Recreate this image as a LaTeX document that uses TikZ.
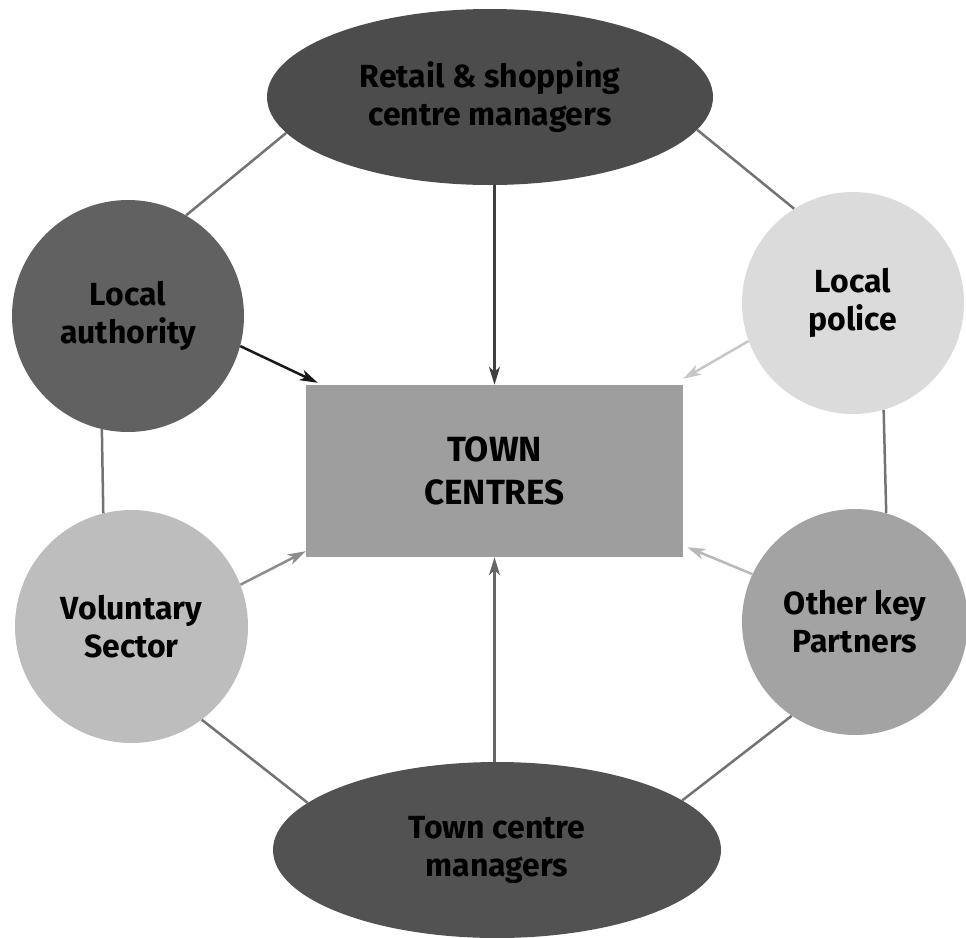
\documentclass[tikz,border=0pt]{standalone}
\usepackage{fontspec}
\setmainfont{Fira Sans}
\usetikzlibrary{arrows.meta,calc,shapes.geometric}
\begin{document}
\begin{tikzpicture}[x=1pt,y=-1pt,
  lbl/.style={font=\bfseries\fontsize{32}{38}\selectfont, text=black, align=center},
  oval/.style={ellipse, lbl, inner sep=0pt, minimum width=446pt, minimum height=176pt},
  disc/.style={circle, lbl, inner sep=0pt},
  ring/.style={draw=black!55, line width=2.5pt},
  feed/.style={line width=2.5pt, -{Stealth[length=18pt,width=11pt,inset=5pt]}}
]
\useasboundingbox (0,0) rectangle (966,937);
% central box
\node[rectangle, fill=black!38, minimum width=377pt, minimum height=172pt, inner sep=0pt,
      font=\bfseries\fontsize{35}{43}\selectfont, align=center] (rect) at (494.5,471) {TOWN\\CENTRES};
% surrounding partners
\node[oval, fill=black!70] (top) at (490,97) {Retail \& shopping\\centre managers};
\node[oval, fill=black!68, minimum width=448pt] (bot) at (497,850) {Town centre\\managers};
\node[disc, fill=black!62, minimum size=232pt] (la) at (128,316) {Local\\authority};
\node[disc, fill=black!14, minimum size=222pt] (pol) at (853,303) {Local\\police};
\node[disc, fill=black!26, minimum size=233pt] (vol) at (131.5,626.5) {Voluntary\\Sector};
\node[disc, fill=black!36, minimum size=226pt] (okp) at (855,622) {Other key\\Partners};
% ring connections
\draw[ring] (top.190) -- (la.60);
\draw[ring] (top.-9) -- (pol.122);
\draw[ring] (la.257.6) -- (vol.104.2);
\draw[ring] (pol.286.8) -- (okp.74.6);
\draw[ring] (vol.-53.6) -- (bot.166);
\draw[ring] (okp.236.4) -- (bot.15);
% arrows into the centre
\draw[feed, draw=black!75] (top.south -| rect.north) -- (rect.north);
\draw[feed, draw=black!60] (bot.north -| rect.south) -- (rect.south);
\draw[feed, draw=black!90] (la.-15) -- ($(rect.north west)+(12,-2)$);
\draw[feed, draw=black!22] (pol.200.7) -- ($(rect.north east)+(0,-6)$);
\draw[feed, draw=black!45] (vol.21.7) -- ($(rect.south west)+(0,-6)$);
\draw[feed, draw=black!28] (okp.155.6) -- ($(rect.south east)+(4,-10)$);
\end{tikzpicture}
\end{document}
